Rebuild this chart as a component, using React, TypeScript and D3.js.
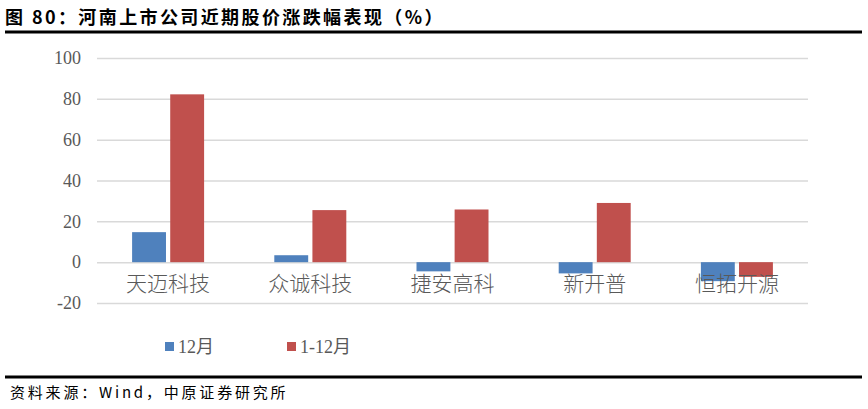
import { useEffect, useRef } from 'react';
import { select, scaleBand, scaleLinear, axisLeft } from 'd3';

const categories = ['天迈科技', '众诚科技', '捷安高科', '新开普', '恒拓开源'];
const seriesNames = ['12月', '1-12月'];
const decValues = [14.7, 3.4, -4.5, -5.5, -9.3];
const ytdValues = [82.2, 25.5, 25.8, 29.0, -7.2];
const yTicks = [-20, 0, 20, 40, 60, 80, 100];
const colors = ['#4F81BD', '#C0504D'];

const W = 868;
const H = 409;
const margin = { top: 58, right: 60, bottom: 106, left: 97 };
const serif = '"Times New Roman", "Liberation Serif", "DejaVu Serif", serif';

const App = () => {
  const svgRef = useRef<SVGSVGElement>(null);

  useEffect(() => {
    if (!svgRef.current) return;
    const svg = select(svgRef.current);
    svg.selectAll('*').remove();

    const x = scaleBand()
      .domain(categories)
      .range([margin.left, W - margin.right])
      .paddingInner(0)
      .paddingOuter(0);
    const y = scaleLinear()
      .domain([-20, 100])
      .range([H - margin.bottom, margin.top]);

    const inner = scaleBand()
      .domain(seriesNames)
      .range([0, 72])
      .paddingInner(8 / 72);

    // title
    svg
      .append('text')
      .attr('x', 5)
      .attr('y', 24)
      .attr('font-family', '"Noto Sans CJK SC", sans-serif')
      .attr('font-weight', 'bold')
      .attr('font-size', 18)
      .attr('letter-spacing', 2.4)
      .attr('fill', '#000')
      .text('图 80：河南上市公司近期股价涨跌幅表现（%）');

    svg
      .append('line')
      .attr('x1', 5)
      .attr('x2', 862)
      .attr('y1', 32)
      .attr('y2', 32)
      .attr('stroke', '#000')
      .attr('stroke-width', 3);

    // grid + y axis
    const yAxis = svg
      .append('g')
      .attr('transform', `translate(${margin.left},0)`)
      .call(
        axisLeft(y)
          .tickValues(yTicks)
          .tickSize(-(W - margin.left - margin.right))
          .tickPadding(16)
          .tickFormat((d) => String(d)),
      );
    yAxis.select('.domain').remove();
    yAxis
      .selectAll('.tick line')
      .attr('stroke', '#d9d9d9')
      .attr('stroke-width', 1.5);
    yAxis
      .selectAll('.tick text')
      .attr('fill', '#595959')
      .style('font-size', '18px')
      .style('font-family', serif);

    // bars
    const series = [decValues, ytdValues];
    series.forEach((vals, si) => {
      svg
        .append('g')
        .selectAll('rect')
        .data(vals)
        .join('rect')
        .attr(
          'x',
          (_, i) =>
            x(categories[i])! + x.bandwidth() / 2 - 36 + inner(seriesNames[si])!,
        )
        .attr('width', inner.bandwidth())
        .attr('y', (d) => Math.min(y(d), y(0)))
        .attr('height', (d) => Math.abs(y(d) - y(0)))
        .attr('fill', colors[si]);
    });

    // category labels
    svg
      .append('g')
      .selectAll('text')
      .data(categories)
      .join('text')
      .attr('x', (d) => x(d)! + x.bandwidth() / 2)
      .attr('y', 291)
      .attr('text-anchor', 'middle')
      .attr('font-size', 21)
      .attr('fill', '#595959')
      .attr('font-family', '"Noto Sans CJK SC", sans-serif')
      .attr('font-weight', 300)
      .text((d) => d);

    // legend
    const legendX = [165, 287];
    const lg = svg
      .append('g')
      .selectAll('g')
      .data(seriesNames)
      .join('g')
      .attr('transform', (_, i) => `translate(${legendX[i]},342)`);
    lg.append('rect')
      .attr('width', 9)
      .attr('height', 9)
      .attr('fill', (_, i) => colors[i]);
    lg.append('text')
      .attr('x', 13)
      .attr('y', 11)
      .style('font-size', '18px')
      .attr('fill', '#595959')
      .style('font-family', `${serif}, "Noto Sans CJK SC"`)
      .text((d) => d);

    svg
      .append('line')
      .attr('x1', 5)
      .attr('x2', 862)
      .attr('y1', 377)
      .attr('y2', 377)
      .attr('stroke', '#000')
      .attr('stroke-width', 3);

    svg
      .append('text')
      .attr('x', 10)
      .attr('y', 398)
      .attr('font-size', 15)
      .attr('letter-spacing', 2.8)
      .attr('fill', '#000')
      .attr('font-family', '"Noto Sans CJK SC", sans-serif')
      .text('资料来源：Wind，中原证券研究所');
  }, []);

  return (
    <svg
      ref={svgRef}
      width={W}
      height={H}
      style={{ position: 'absolute', left: 0, top: 0, background: '#fff' }}
    />
  );
};

export default App;
